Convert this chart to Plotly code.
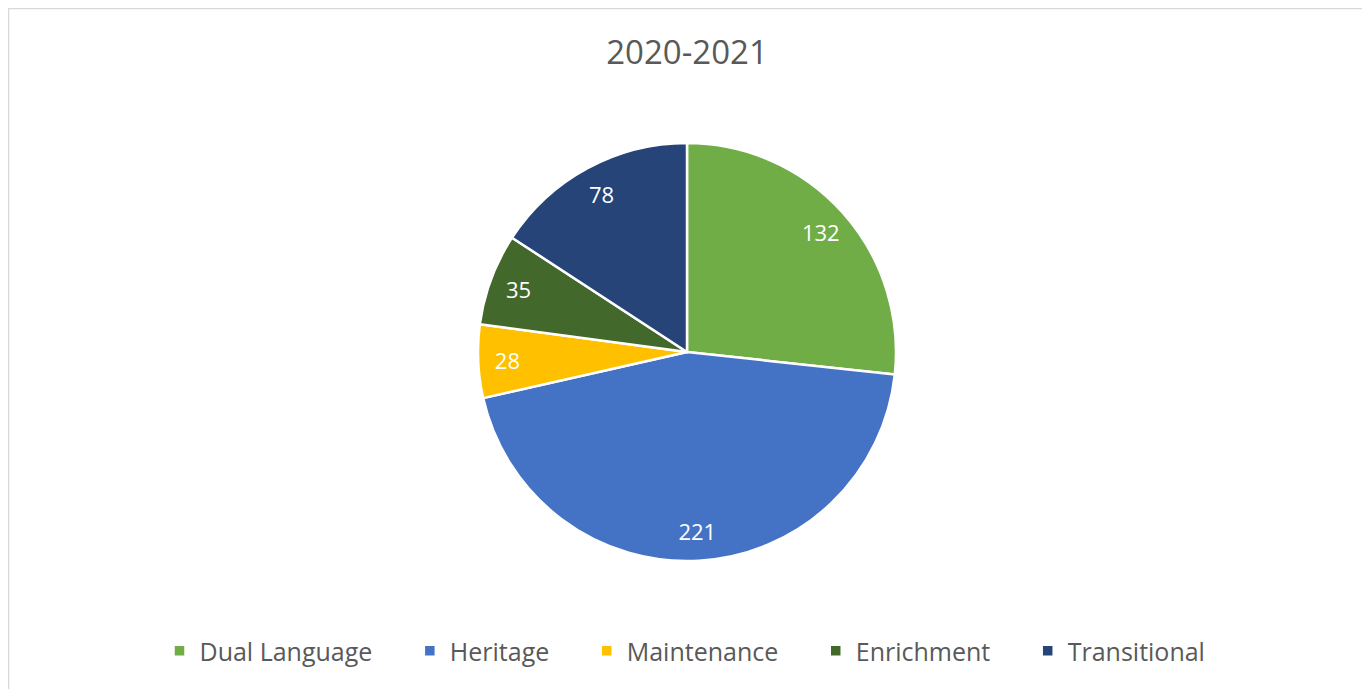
import plotly.graph_objects as go

categories = ["Dual Language", "Heritage", "Maintenance", "Enrichment", "Transitional"]
values = [132, 221, 28, 35, 78]
colors = ["#70AD47", "#4472C4", "#FFC000", "#43682B", "#264478"]
title_text = "2020-2021"

# page body has an 8px margin; layout in figure pixels
W, H = 1360, 689
cx, cy, r = 679, 344, 209
dom = dict(x=[(cx - r) / W, (cx + r) / W], y=[(H - cy - r) / H, (H - cy + r) / H])

pad = "\u00a0" * 5
legend_labels = [c + pad for c in categories]

fig = go.Figure()
fig.add_trace(go.Pie(
    labels=legend_labels,
    values=values,
    sort=False,
    direction="clockwise",
    rotation=0,
    marker=dict(colors=colors, line=dict(color="white", width=2.5)),
    textinfo="none",
    customdata=categories,
    hovertemplate="%{customdata}: %{value}<extra></extra>",
    domain=dom,
))
# transparent ring carrying the data labels further out, as in the original
fig.add_trace(go.Pie(
    labels=legend_labels,
    values=values,
    sort=False,
    direction="clockwise",
    rotation=0,
    hole=0.72,
    showlegend=False,
    marker=dict(colors=["rgba(0,0,0,0)"] * len(values), line=dict(width=0)),
    textinfo="value",
    textposition="inside",
    insidetextorientation="horizontal",
    textfont=dict(color="white", size=22, family="Open Sans"),
    hoverinfo="skip",
    domain=dom,
))

fig.update_layout(
    width=W, height=H,
    margin=dict(l=0, r=0, t=0, b=0),
    paper_bgcolor="white",
    title=dict(text=title_text, x=cx / W, xanchor="center", y=1 - 44 / H, yanchor="middle",
               font=dict(family="Open Sans", size=33, color="#595959")),
    legend=dict(orientation="h", x=(cx + 14) / W, xanchor="center", y=1 - 643 / H, yanchor="middle",
                font=dict(family="Open Sans", size=25, color="#595959"),
                traceorder="normal"),
    shapes=[dict(type="rect", xref="paper", yref="paper",
                 x0=0.5 / W, x1=1358.5 / W, y0=-0.05, y1=1 - 0.5 / H,
                 line=dict(color="#D9D9D9", width=1.5), fillcolor="rgba(0,0,0,0)", layer="below")],
)

fig.write_html("out.html")
